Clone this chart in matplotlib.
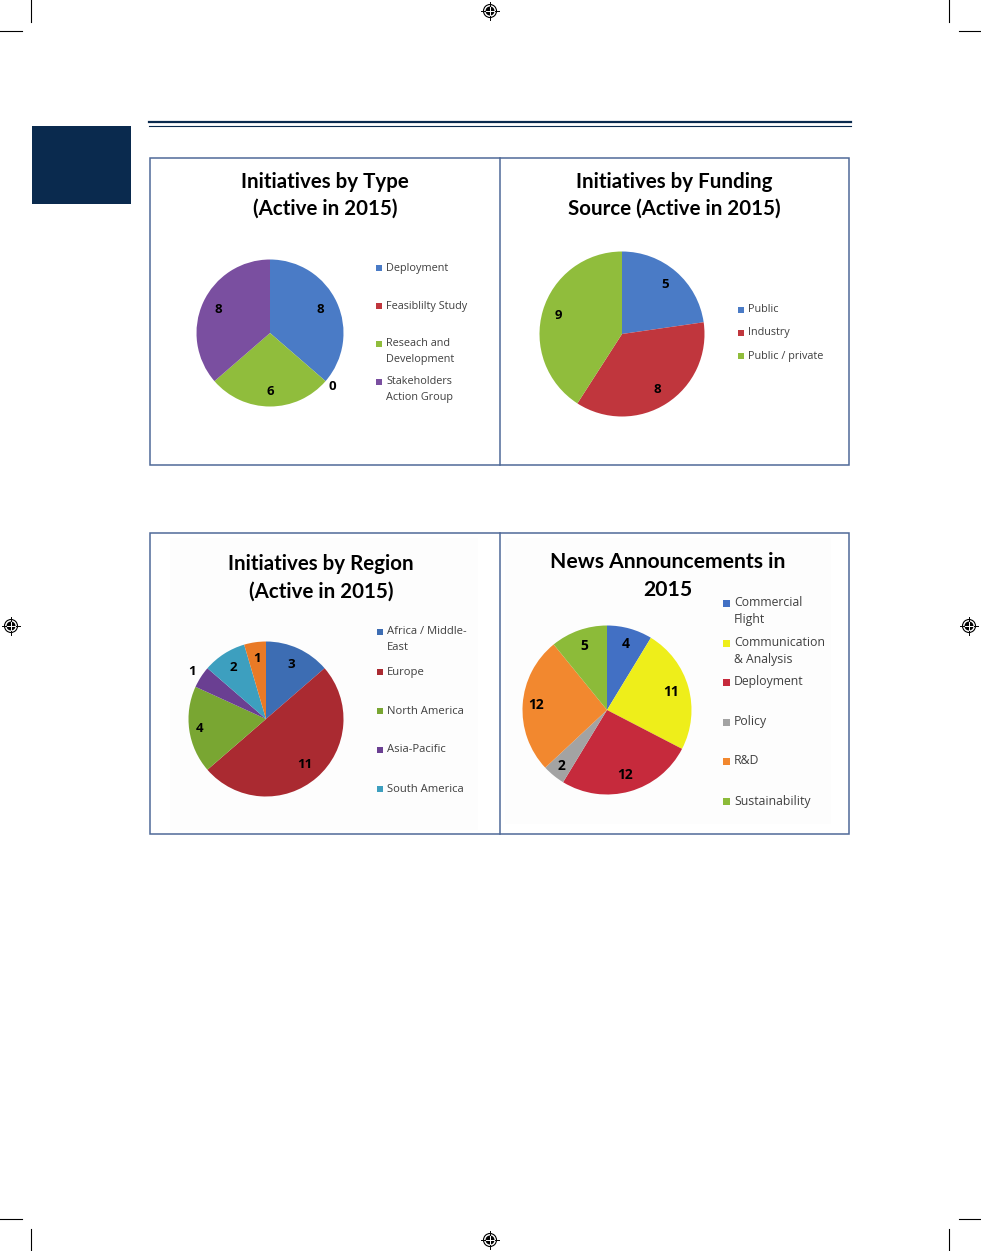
"""
Annual report page - four pie charts of 2015 initiatives and news.
"""

import numpy as np
import matplotlib.pyplot as plt
from matplotlib.patches import Rectangle, Circle

# ── Data ────────────────────────────────────────────────────────────────
type_labels = ["Deployment", "Feasiblilty Study", "Reseach and\nDevelopment", "Stakeholders\nAction Group"]
type_values = [8, 0, 6, 8]
type_colors = ["#4a7bc6", "#c0363d", "#90bd3c", "#7a4fa0"]

fund_labels = ["Public", "Industry", "Public / private"]
fund_values = [5, 8, 9]
fund_colors = ["#4a7bc6", "#c0363d", "#90bd3c"]

region_labels = ["Africa / Middle-\nEast", "Europe", "North America", "Asia-Pacific", "South America"]
region_values = [3, 11, 4, 1, 2, 1]
region_colors = ["#3d6db3", "#aa2a31", "#79a632", "#6a3f92", "#3d9fbf", "#e97a26"]

news_labels = ["Commercial\nFlight", "Communication\n& Analysis", "Deployment", "Policy", "R&D", "Sustainability"]
news_values = [4, 11, 12, 2, 12, 5]
news_colors = ["#4270c4", "#eeee1a", "#c62a3c", "#a3a3a3", "#f2882f", "#8cbb39"]

# ── Page setup ──────────────────────────────────────────────────────────
W, H = 981, 1251
NAVY = "#0a2a4e"
BOX = "#4f6a98"
LEG = "#404040"
TITLE_FONT = ["Lato", "DejaVu Sans"]
BODY_FONT = ["Open Sans", "DejaVu Sans"]

fig = plt.figure(figsize=(W / 100, H / 100), dpi=100)
page = fig.add_axes([0, 0, 1, 1])
page.set_xlim(0, W)
page.set_ylim(H, 0)
page.axis("off")

# crop marks
for x0, x1, y0, y1 in [(31, 31, 0, 22), (0, 22, 31, 31), (949, 949, 0, 22), (959, 981, 31, 31),
                       (31, 31, 1229, 1251), (0, 22, 1219, 1219), (949, 949, 1229, 1251),
                       (959, 981, 1219, 1219)]:
    page.plot([x0, x1], [y0, y1], color="black", lw=0.8)

# registration marks
for cx, cy in [(490, 11), (490, 1240), (11, 626), (969, 626)]:
    page.add_patch(Circle((cx, cy), 6.5, fill=False, ec="black", lw=0.8))
    page.add_patch(Circle((cx, cy), 3.8, color="black"))
    page.plot([cx - 9, cx + 9], [cy, cy], color="black", lw=0.7)
    page.plot([cx, cx], [cy - 9, cy + 9], color="black", lw=0.7)
    page.plot([cx - 3.8, cx + 3.8], [cy, cy], color="white", lw=0.7)
    page.plot([cx, cx], [cy - 3.8, cy + 3.8], color="white", lw=0.7)

# navy tab and double rule
page.add_patch(Rectangle((32, 126), 99, 78, color=NAVY, lw=0))
page.plot([149, 851], [122, 122], color=NAVY, lw=1.6)
page.plot([149, 851], [125.5, 125.5], color=NAVY, lw=0.8)

# chart boxes
for top, bottom in [(158, 465), (533, 834)]:
    page.add_patch(Rectangle((149.5, top), 699.5, bottom - top, fill=False, ec=BOX, lw=1.1))
    page.plot([499.5, 499.5], [top, bottom], color=BOX, lw=1.1)

# faint scanned backgrounds of the lower charts
page.add_patch(Rectangle((170, 538), 308, 292, color="#fdfdfd", lw=0, zorder=0))
page.add_patch(Rectangle((505, 538), 326, 286, color="#fdfdfd", lw=0, zorder=0))


def pie_chart(cx, cy, r, values, colors, dist, lab_size):
    ax = fig.add_axes([(cx - r) / W, 1 - (cy + r) / H, 2 * r / W, 2 * r / H])
    wedges, _ = ax.pie(values, colors=colors, startangle=90, counterclock=False,
                       wedgeprops=dict(linewidth=0))
    ax.set_xlim(-1, 1)
    ax.set_ylim(-1, 1)
    ax.set_aspect("equal")
    ax.axis("off")
    for w, v, d in zip(wedges, values, dist):
        mid = np.deg2rad((w.theta1 + w.theta2) / 2)
        ax.text(d * np.cos(mid), d * np.sin(mid), str(v), ha="center", va="center",
                fontsize=lab_size, fontweight="bold", color="black", family=BODY_FONT,
                clip_on=False)
    return ax


def title(cx, lines, y0, size):
    for i, line in enumerate(lines):
        page.text(cx, y0 + i * 27, line, ha="center", va="center", fontsize=size,
                  fontweight="bold", color="black", family=TITLE_FONT)


def legend(x, ys, labels, colors, size, sq, line_h):
    for y, lab, c in zip(ys, labels, colors):
        page.add_patch(Rectangle((x - sq - 2, y - sq / 2), sq, sq, color=c, lw=0))
        for j, part in enumerate(lab.split("\n")):
            page.text(x + 2, y + j * line_h, part, ha="left", va="center",
                      fontsize=size, color=LEG, family=BODY_FONT)


# ── Chart 1 — Initiatives by Type ───────────────────────────────────────
title(325, ["Initiatives by Type", "(Active in 2015)"], 181.5, 14.8)
pie_chart(270, 333, 73.5, type_values, type_colors, [0.76, 1.12, 0.8, 0.78], 9.5)
legend(384, [268, 306, 344, 382], type_labels, type_colors, 7.8, 6, 15.5)

# ── Chart 2 — Initiatives by Funding Source ─────────────────────────────
title(674, ["Initiatives by Funding", "Source (Active in 2015)"], 181.5, 14.8)
pie_chart(622, 334, 82.5, fund_values, fund_colors, [0.79, 0.8, 0.8], 9.5)
legend(746, [310, 333, 356], fund_labels, fund_colors, 7.8, 6, 15)

# ── Chart 3 — Initiatives by Region ─────────────────────────────────────
title(321, ["Initiatives by Region", "(Active in 2015)"], 564.5, 14.8)
pie_chart(266, 719, 77.5, region_values, region_colors, [0.78, 0.77, 0.86, 1.14, 0.79, 0.79], 9.5)
legend(385, [632, 672, 711, 750, 789], region_labels, region_colors, 8.1, 6.5, 16)

# ── Chart 4 — News Announcements ────────────────────────────────────────
title(668, ["News Announcements in", "2015"], 562.5, 15.2)
pie_chart(607, 710, 84.5, news_values, news_colors, [0.81, 0.79, 0.8, 0.86, 0.84, 0.81], 10)
legend(732, [603, 643, 682, 722, 761, 801], news_labels, news_colors, 8.8, 7, 17)

fig.savefig("out.png", dpi=100)
